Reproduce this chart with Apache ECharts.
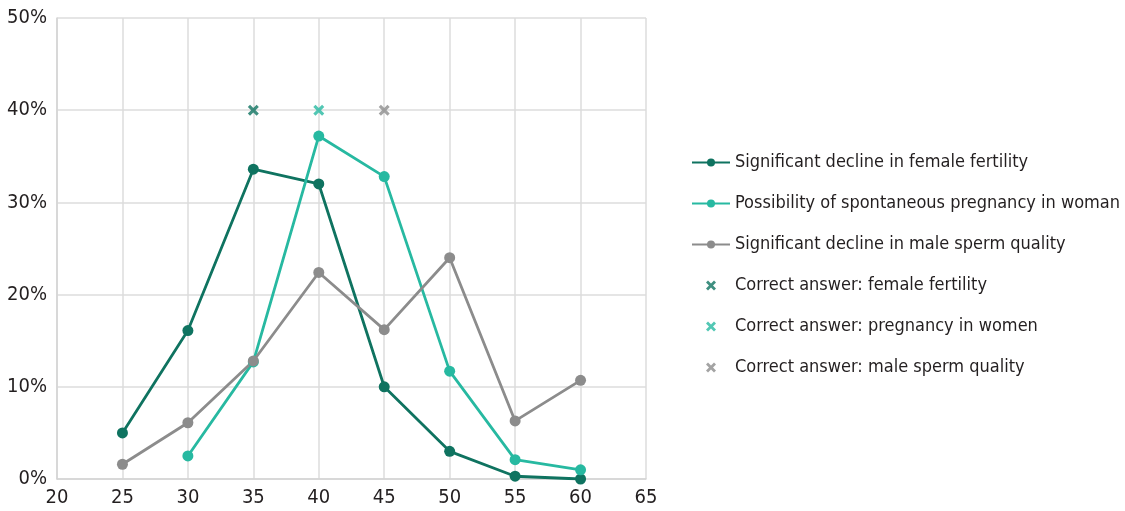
<!DOCTYPE html>
<html><head><meta charset="utf-8">
<script src="https://cdn.jsdelivr.net/npm/echarts@6/dist/echarts.min.js"></script>
<style>html,body{margin:0;padding:0;background:#fff}#c{width:1125px;height:511px}</style>
</head><body><div id="c"></div>
<script>
const ages = [25, 30, 35, 40, 45, 50, 55, 60];
const femaleFertility = [5.0, 16.1, 33.6, 32.0, 10.0, 3.0, 0.3, 0.0];
const pregnancyAges = [30, 35, 40, 45, 50, 55, 60];
const pregnancy = [2.5, 12.7, 37.2, 32.8, 11.7, 2.1, 1.0];
const maleSperm = [1.6, 6.1, 12.8, 22.4, 16.2, 24.0, 6.3, 10.7];
const correctFemale = [[35, 40]];
const correctPregnancy = [[40, 40]];
const correctMale = [[45, 40]];
const names = [
  'Significant decline in female fertility',
  'Possibility of spontaneous pregnancy in woman',
  'Significant decline in male sperm quality',
  'Correct answer: female fertility',
  'Correct answer: pregnancy in women',
  'Correct answer: male sperm quality'
];
const C1 = '#0f7360', C2 = '#27b9a1', C3 = '#8c8c8c';
const FONT = '"DejaVu Sans Condensed", "Liberation Sans Narrow", sans-serif';
const X = 'path://M0,2L2,0L5,3L8,0L10,2L7,5L10,8L8,10L5,7L2,10L0,8L3,5Z';
const pair = (xs, ys) => xs.map((x, i) => [x, ys[i]]);
const chart = echarts.init(document.getElementById('c'));
chart.setOption({
  animation: false,
  grid: {left: 57, right: 479, top: 18, bottom: 32},
  xAxis: {type: 'value', min: 20, max: 65, interval: 5,
    axisLine: {show: true, lineStyle: {color: '#d4d4d4', width: 1.5}},
    axisTick: {show: false},
    splitLine: {show: true, lineStyle: {color: '#dcdcdc', width: 1.5}},
    axisLabel: {color: '#231f20', fontSize: 20, fontFamily: FONT, margin: 9}},
  yAxis: {type: 'value', min: 0, max: 50, interval: 10,
    axisLine: {show: true, lineStyle: {color: '#d4d4d4', width: 1.5}},
    axisTick: {show: false},
    splitLine: {show: true, lineStyle: {color: '#dcdcdc', width: 1.5}},
    axisLabel: {color: '#231f20', fontSize: 20, fontFamily: FONT, margin: 10, formatter: '{value}%'}},
  legend: {orient: 'vertical', left: 686, top: 146, itemGap: 18, itemWidth: 38, itemHeight: 10,
    textStyle: {color: '#231f20', fontSize: 18, fontFamily: FONT, lineHeight: 23},
    data: names.map((n, i) => i < 3 ? {name: n} : {name: n, icon: X})},
  series: [
    {name: names[0], type: 'line', data: pair(ages, femaleFertility), color: C1, symbol: 'circle', symbolSize: 11, lineStyle: {width: 2.8}},
    {name: names[1], type: 'line', data: pair(pregnancyAges, pregnancy), color: C2, symbol: 'circle', symbolSize: 11, lineStyle: {width: 2.8}},
    {name: names[2], type: 'line', data: pair(ages, maleSperm), color: C3, symbol: 'circle', symbolSize: 11, lineStyle: {width: 2.8}},
    {name: names[3], type: 'scatter', data: correctFemale, color: C1, symbol: X, symbolSize: 11},
    {name: names[4], type: 'scatter', data: correctPregnancy, color: C2, symbol: X, symbolSize: 11},
    {name: names[5], type: 'scatter', data: correctMale, color: C3, symbol: X, symbolSize: 11}
  ]
});
</script></body></html>
